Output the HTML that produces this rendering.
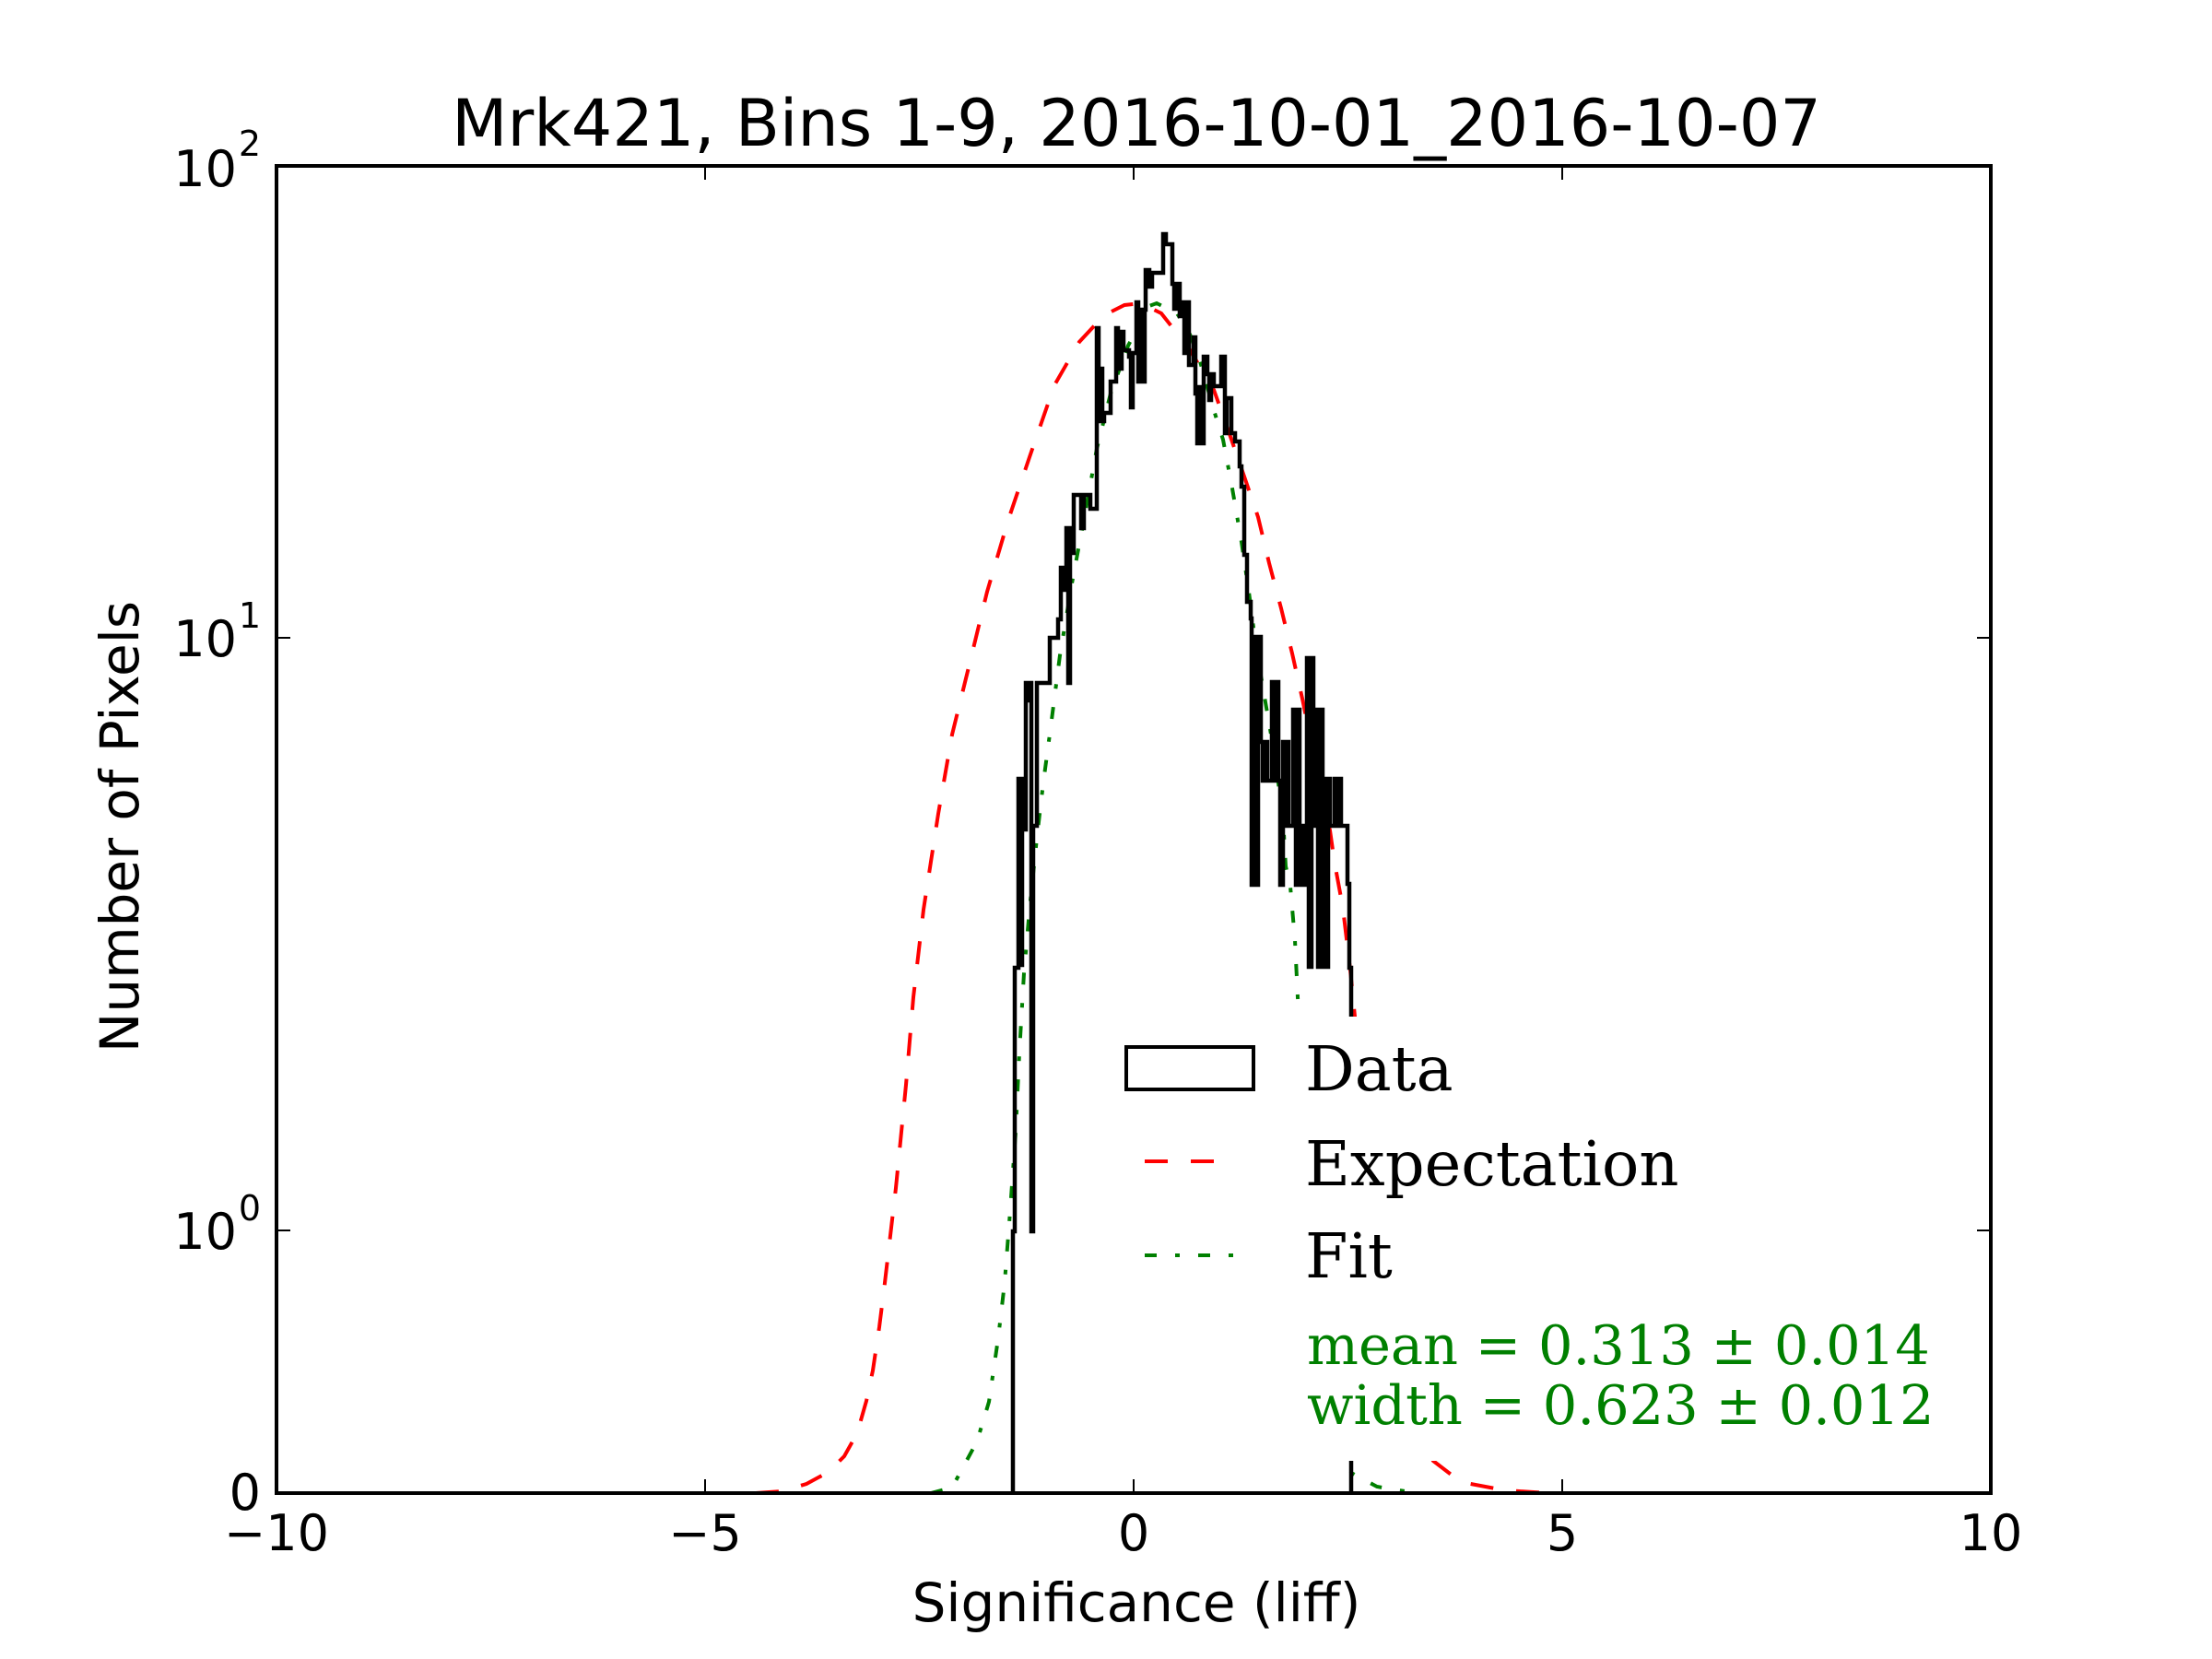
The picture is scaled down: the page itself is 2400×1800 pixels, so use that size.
<!DOCTYPE html>
<html><head><meta charset="utf-8"><style>
html,body{margin:0;padding:0;background:#fff;}
svg{display:block;}
.s{font-family:"DejaVu Sans","Liberation Sans",sans-serif;}
.r{font-family:"DejaVu Serif","Liberation Serif",serif;}
</style></head><body>
<svg width="2400" height="1800" viewBox="0 0 2400 1800" xmlns="http://www.w3.org/2000/svg">
<rect width="2400" height="1800" fill="#fff"/>
<!-- Expectation -->
<polyline fill="none" stroke="#ff0000" stroke-width="4" stroke-dasharray="25,25"
points="820,1620 849,1618 875,1610 899,1597 916,1580 930,1555 940,1520 947,1487 954,1440 960,1392 972,1289 983,1177 991,1082 1002,987 1018,883 1033,797 1052,720 1071,642 1094,564 1117,496 1144,418 1171,371 1198,342 1220,331 1238,329 1260,340 1290,378 1317,423 1333,468 1350,517 1365,561 1377,611 1390,660 1402,709 1413,758 1423,807 1433,856 1443,901 1448,936 1457,985 1465,1052 1470,1103 1500,1400 1530,1540 1555,1585 1585,1608 1633,1617 1680,1620"/>
<!-- Fit -->
<polyline fill="none" stroke="#008000" stroke-width="4" stroke-dasharray="13,20,5,20"
points="1010,1620 1033,1614 1060,1564 1073,1521 1083,1452 1090,1392 1096,1314 1102,1228 1106,1142 1111,1056 1117,987 1125,909 1132,849 1140,789 1150,711 1163,633 1176,564 1190,487 1205,427 1224,375 1247,332 1255,329 1277,340 1290,360 1302,392 1317,445 1327,477 1337,530 1347,588 1355,642 1363,704 1373,762 1383,820 1392,887 1395,940 1400,962 1405,1020 1408,1082 1430,1400 1466,1598 1494,1613 1518,1617 1540,1620"/>
<!-- Data histogram -->
<path fill="none" stroke="#000" stroke-width="4.5" stroke-linejoin="miter" d="M1099,1620 V1336 H1101 V1050 H1105 V845 H1107 V1047 H1109 V845 H1111 V900 H1113 V741 H1115 V760 H1117 V741 H1119 V1336 H1121 V896 H1125 V741 H1139 V692 H1148 V672 H1151 V616 H1153 V640 H1155 V616 H1157 V573 H1159 V741 H1161 V573 H1163 V600 H1165 V537 H1173 V573 H1176 V537 H1183 V552 H1190 V356 H1192 V457 H1194 V400 H1196 V457 H1198 V448 H1205 V414 H1211 V356 H1213 V400 H1217 V360 H1219 V380 H1225 V387 H1227 V442 H1229 V383 H1233 V328 H1235 V414 H1237 V336 H1240 V414 H1242 V336 H1243 V293 H1247 V311 H1250 V296 H1257 V296 H1262 V254 H1265 V265 H1268 V265 H1272 V308 H1274 V335 H1276 V308 H1280 V343 H1283 V328 H1285 V383 H1287 V328 H1290 V396 H1295 V366 H1297 V427 H1299 V481 H1301 V420 H1303 V481 H1306 V387 H1310 V406 H1312 V434 H1314 V406 H1317 V419 H1325 V387 H1329 V470 H1331 V432 H1336 V470 H1340 V479 H1345 V506 H1347 V528 H1350 V602 H1353 V653 H1357 V671 H1358 V960 H1360 V691 H1362 V960 H1365 V691 H1368 V805 H1370 V847 H1372 V805 H1375 V847 H1377 V847 H1380 V740 H1383 V847 H1385 V740 H1387 V847 H1389 V960 H1392 V805 H1394 V896 H1396 V805 H1398 V896 H1403 V770 H1406 V960 H1408 V770 H1410 V896 H1412 V960 H1414 V896 H1416 V960 H1418 V714 H1420 V1049 H1423 V714 H1425 V896 H1428 V770 H1430 V1049 H1432 V770 H1435 V1049 H1437 V845 H1439 V1049 H1441 V845 H1443 V896 H1448 V845 H1451 V896 H1453 V845 H1455 V896 H1462 V959 H1464 V1050 H1466 V1620"/>
<!-- legend background -->
<rect x="1195" y="1103" width="935" height="482" fill="#fff"/>
<rect x="1222" y="1136" width="138" height="46" fill="none" stroke="#000" stroke-width="4"/>
<line x1="1242" y1="1260" x2="1317" y2="1260" stroke="#ff0000" stroke-width="4" stroke-dasharray="25,25"/>
<line x1="1242" y1="1362" x2="1350" y2="1362" stroke="#008000" stroke-width="4" stroke-dasharray="13,20,5,20"/>
<text class="r" x="1416" y="1183" font-size="67">Data</text>
<text class="r" x="1416" y="1286" font-size="67">Expectation</text>
<text class="r" x="1416" y="1386" font-size="67">Fit</text>
<text class="r" x="1418" y="1480" font-size="59" fill="#008000">mean = 0.313 ± 0.014</text>
<text class="r" x="1418" y="1545" font-size="59" fill="#008000">width = 0.623 ± 0.012</text>
<!-- axes -->
<rect x="300" y="180" width="1860" height="1440" fill="none" stroke="#000" stroke-width="4"/>
<g stroke="#000" stroke-width="2">
<line x1="765" y1="1620" x2="765" y2="1605"/><line x1="1230" y1="1620" x2="1230" y2="1605"/><line x1="1695" y1="1620" x2="1695" y2="1605"/>
<line x1="765" y1="180" x2="765" y2="195"/><line x1="1230" y1="180" x2="1230" y2="195"/><line x1="1695" y1="180" x2="1695" y2="195"/>
<line x1="300" y1="692" x2="315" y2="692"/><line x1="300" y1="1335" x2="315" y2="1335"/>
<line x1="2160" y1="692" x2="2145" y2="692"/><line x1="2160" y1="1335" x2="2145" y2="1335"/>
</g>
<g class="s" font-size="54" text-anchor="middle">
<text x="300" y="1682">−10</text>
<text x="765" y="1682">−5</text>
<text x="1230" y="1682">0</text>
<text x="1695" y="1682">5</text>
<text x="2160" y="1682">10</text>
</g>
<g class="s" text-anchor="end">
<text x="257" y="202" font-size="54">10</text><text x="283" y="169" font-size="38">2</text>
<text x="257" y="712" font-size="54">10</text><text x="283" y="681" font-size="38">1</text>
<text x="257" y="1355" font-size="54">10</text><text x="283" y="1324" font-size="38">0</text>
<text x="283" y="1638" font-size="54">0</text>
</g>
<text class="s" x="1233" y="158" font-size="70" text-anchor="middle">Mrk421, Bins 1-9, 2016-10-01_2016-10-07</text>
<text class="s" x="1233" y="1759" font-size="58" text-anchor="middle">Significance (liff)</text>
<text class="s" x="150" y="897" font-size="58" text-anchor="middle" transform="rotate(-90 150 897)">Number of Pixels</text>
</svg>
</body></html>
